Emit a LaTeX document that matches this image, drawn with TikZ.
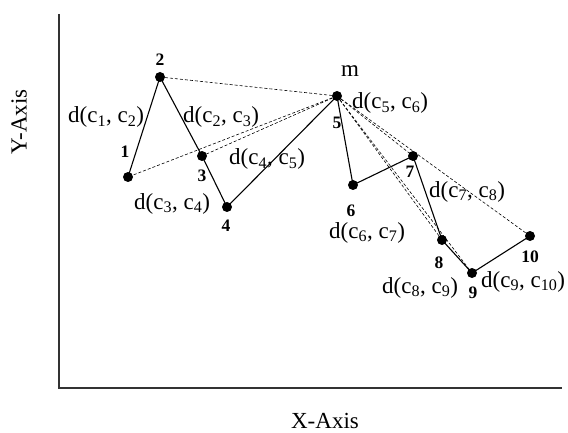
\documentclass[tikz,border=0pt]{standalone}
\usepackage{fontspec}
\setmainfont{Liberation Serif}
\usetikzlibrary{positioning}
\definecolor{axisgray}{RGB}{50,50,50}

\begin{document}
\begin{tikzpicture}[
  x=1pt, y=-1pt,
  pt/.style={circle, fill=black, inner sep=0pt, minimum size=10pt},
  num/.style={inner sep=0pt, anchor=base, font=\fontsize{17.5}{20}\selectfont\bfseries},
  dist/.style={inner sep=0pt, anchor=base west, font=\fontsize{23}{27}\selectfont},
  axis/.style={line width=1.4pt, draw=axisgray},
  seg/.style={line width=1.1pt},
  link/.style={line width=0.6pt, dash pattern=on 3pt off 2pt}
]
\useasboundingbox (0,0) rectangle (568,433);

% Axes
\coordinate (top) at (59,14);
\coordinate (origin) at (59,388);
\coordinate (right) at (562,388);
\draw[axis] (top) -- (origin) -- (right);
\node[font=\fontsize{23}{27}\selectfont, rotate=90] (ylab) at (19,122) {Y-Axis};
\node[font=\fontsize{23}{27}\selectfont, inner sep=0pt, anchor=base] (xlab) at (325,428) {X-Axis};

% Points
\node[pt] (p1) at (128,177) {};
\node[pt] (p2) at (160,77) {};
\node[pt] (p3) at (202,156) {};
\node[pt] (p4) at (227,207) {};
\node[pt] (p5) at (337,96) {};
\node[pt] (p6) at (353,185) {};
\node[pt] (p7) at (413,156) {};
\node[pt] (p8) at (442,240) {};
\node[pt] (p9) at (472,273) {};
\node[pt] (p10) at (530,236) {};

% Point numbers
\node[num] (n1) at (125,158) {1};
\node[num] (n2) at (160,66) {2};
\node[num] (n3) at (202,182) {3};
\node[num] (n4) at (226,231) {4};
\node[num] (n5) at (337,129) {5};
\node[num] (n6) at (351,217) {6};
\node[num] (n7) at (410,178) {7};
\node[num] (n8) at (439,268) {8};
\node[num] (n9) at (473,298) {9};
\node[num] (n10) at (530,262) {10};
\node[dist, anchor=base] (m) at (350,77) {m};

% Dashed links from m
\foreach \p in {2,1,3,7,8,9,10}
  \draw[link] (p5.center) -- (p\p.center);

% Path through the points
\draw[seg] (p1.center) -- (p2.center) -- (p3.center) -- (p4.center) -- (p5.center)
  -- (p6.center) -- (p7.center) -- (p8.center) -- (p9.center) -- (p10.center);

% Distance labels
\node[dist] (d12) at (68,123) {d(c\textsubscript{1}, c\textsubscript{2})};
\node[dist] (d23) at (183,123) {d(c\textsubscript{2}, c\textsubscript{3})};
\node[dist] (d34) at (134,209) {d(c\textsubscript{3}, c\textsubscript{4})};
\node[dist] (d45) at (229,165) {d(c\textsubscript{4}, c\textsubscript{5})};
\node[dist] (d56) at (352,109) {d(c\textsubscript{5}, c\textsubscript{6})};
\node[dist] (d67) at (329,238) {d(c\textsubscript{6}, c\textsubscript{7})};
\node[dist] (d78) at (429,197) {d(c\textsubscript{7}, c\textsubscript{8})};
\node[dist] (d89) at (382,293) {d(c\textsubscript{8}, c\textsubscript{9})};
\node[dist] (d910) at (481,287) {d(c\textsubscript{9}, c\textsubscript{10})};

\end{tikzpicture}
\end{document}
